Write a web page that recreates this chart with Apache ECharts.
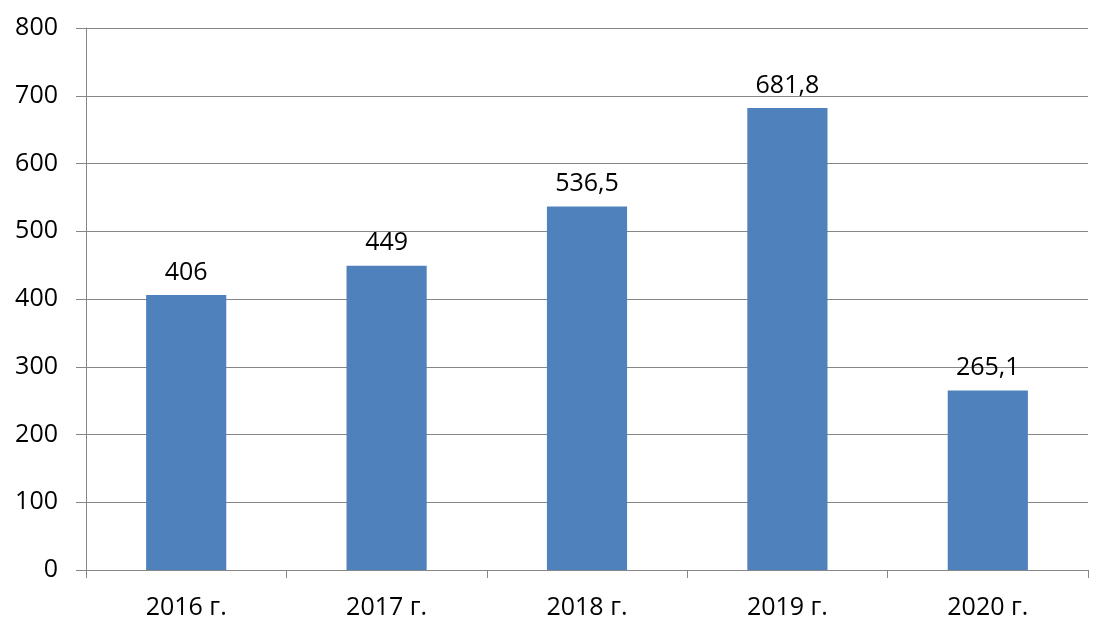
<!DOCTYPE html>
<html><head><meta charset="utf-8">
<script src="https://cdn.jsdelivr.net/npm/echarts@6/dist/echarts.min.js"></script>
<style>html,body{margin:0;padding:0;background:#fff}#c{width:1111px;height:638px}</style>
</head><body><div id="c"></div>
<script>
const categories = ['2016 г.', '2017 г.', '2018 г.', '2019 г.', '2020 г.'];
const values = [406, 449, 536.5, 681.8, 265.1];
const valueLabels = ['406', '449', '536,5', '681,8', '265,1'];
const yTicks = [0, 100, 200, 300, 400, 500, 600, 700, 800];

const FONT = 'Open Sans';
const chart = echarts.init(document.getElementById('c'), null, {renderer: 'canvas'});
chart.setOption({
  animation: false,
  backgroundColor: '#fff',
  grid: {left: 86, right: 23, top: 28, bottom: 68, containLabel: false},
  xAxis: {
    type: 'category', data: categories,
    axisLine: {show: true, lineStyle: {color: '#868686', width: 1}},
    axisTick: {show: true, alignWithLabel: false, length: 8, lineStyle: {color: '#868686'}},
    axisLabel: {color: '#000', fontFamily: FONT, fontSize: 25, margin: 25}
  },
  yAxis: {
    type: 'value', min: yTicks[0], max: yTicks[yTicks.length - 1], interval: 100,
    axisLine: {show: true, lineStyle: {color: '#868686', width: 1}},
    axisTick: {show: true, length: 10, lineStyle: {color: '#868686'}},
    splitLine: {show: true, lineStyle: {color: '#868686', width: 1}},
    axisLabel: {color: '#000', fontFamily: FONT, fontSize: 25, margin: 28}
  },
  series: [{
    type: 'bar', data: values, barWidth: '40%',
    itemStyle: {color: '#4F81BD'},
    label: {show: true, position: 'top', distance: 10, color: '#000', fontFamily: FONT, fontSize: 25,
      formatter: p => valueLabels[p.dataIndex]}
  }]
});
</script></body></html>
